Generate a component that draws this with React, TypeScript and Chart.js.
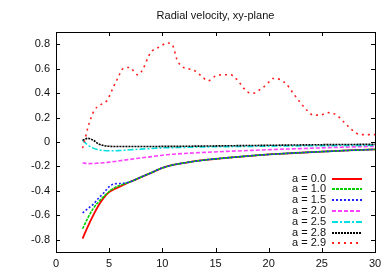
import React, { useEffect, useRef } from "react";
import { Chart, registerables } from "chart.js";

Chart.register(...registerables);

const TITLE = "Radial velocity, xy-plane";
const X_TICKS = [0, 5, 10, 15, 20, 25, 30];
const Y_TICKS = [-0.8, -0.6, -0.4, -0.2, 0, 0.2, 0.4, 0.6, 0.8];

const gridX = [2.5, 3, 3.5, 4, 4.5, 5, 5.5, 6, 7, 8, 9, 10, 11, 12, 14, 16, 18, 20, 22, 25, 28, 30];
const tail = [-0.325, -0.287, -0.25, -0.212, -0.188, -0.172, -0.147, -0.13, -0.115, -0.102, -0.092, -0.079, -0.067, -0.061];

const a00 = [-0.79, -0.69, -0.6, -0.52, -0.455, -0.41, -0.385, -0.365, ...tail];
const a10 = [-0.71, -0.62, -0.545, -0.49, -0.445, -0.405, -0.375, -0.355, ...tail];
const a15 = [-0.58, -0.545, -0.51, -0.46, -0.415, -0.365, -0.342, -0.34, ...tail];
const a20 = [-0.17, -0.177, -0.176, -0.173, -0.17, -0.165, -0.16, -0.153, -0.142, -0.13, -0.12, -0.108, -0.1, -0.094, -0.085, -0.077, -0.07, -0.063, -0.057, -0.048, -0.04, -0.036];
const a25 = [0.015, -0.025, -0.05, -0.063, -0.07, -0.072, -0.072, -0.07, -0.064, -0.058, -0.053, -0.048, -0.046, -0.044, -0.04, -0.038, -0.036, -0.034, -0.032, -0.03, -0.028, -0.027];
const a28 = [0.015, 0.03, 0.015, -0.015, -0.03, -0.035, -0.037, -0.037, -0.037, -0.037, -0.037, -0.036, -0.036, -0.035, -0.033, -0.031, -0.029, -0.027, -0.025, -0.022, -0.02, -0.019];

const a29X = [2.5, 2.75, 3.0, 3.3, 3.6, 4.1, 4.8, 5.4, 5.85, 6.3, 7.0, 7.3, 7.7, 8.2, 8.7, 9.1, 9.8, 10.4, 10.9, 11.4, 11.8, 12.4, 13.1, 13.8, 14.3, 15.0, 15.7, 16.4, 16.8, 17.3, 18.0, 18.6, 19.2, 19.8, 20.4, 21.1, 21.7, 22.3, 23.0, 23.6, 24.2, 24.8, 25.6, 26.4, 27.0, 27.7, 28.3, 28.9, 29.5, 30];
const a29 = [-0.05, 0.03, 0.12, 0.2, 0.26, 0.3, 0.34, 0.45, 0.53, 0.6, 0.61, 0.58, 0.55, 0.6, 0.7, 0.75, 0.78, 0.81, 0.8, 0.67, 0.62, 0.6, 0.58, 0.53, 0.5, 0.54, 0.55, 0.55, 0.53, 0.48, 0.41, 0.4, 0.43, 0.47, 0.52, 0.51, 0.47, 0.4, 0.32, 0.26, 0.22, 0.22, 0.24, 0.22, 0.17, 0.11, 0.07, 0.06, 0.06, 0.06];

const LABELS = ["a = 0.0", "a = 1.0", "a = 1.5", "a = 2.0", "a = 2.5", "a = 2.8", "a = 2.9"];
const COLORS = ["#ff0000", "#00d000", "#2020ff", "#ff40ff", "#00e0e0", "#000000", "#ff2020"];
const DASHES: number[][] = [[], [3, 1], [2, 2], [4, 2], [6, 2, 2, 2], [2, 1], [2, 4]];

const FONT = '"Liberation Sans", Arial, sans-serif';

const pts = (xs: number[], ys: number[]) => xs.map((x, i) => ({ x, y: ys[i] }));

const framePlugin = {
  id: "frame",
  afterDraw(chart: any) {
    const { ctx, chartArea: a, scales } = chart;
    ctx.save();
    ctx.strokeStyle = "#000";
    ctx.lineWidth = 1;
    ctx.strokeRect(Math.round(a.left) + 0.5, Math.round(a.top) + 0.5, Math.round(a.right - a.left), Math.round(a.bottom - a.top));
    const tl = 4;
    ctx.beginPath();
    X_TICKS.forEach((v) => {
      const px = Math.round(scales.x.getPixelForValue(v)) + 0.5;
      ctx.moveTo(px, a.bottom);
      ctx.lineTo(px, a.bottom - tl);
      ctx.moveTo(px, a.top);
      ctx.lineTo(px, a.top + tl);
    });
    Y_TICKS.forEach((v) => {
      const py = Math.round(scales.y.getPixelForValue(v)) + 0.5;
      ctx.moveTo(a.left, py);
      ctx.lineTo(a.left + tl, py);
      ctx.moveTo(a.right, py);
      ctx.lineTo(a.right - tl, py);
    });
    ctx.stroke();

    // title
    ctx.fillStyle = "#111";
    ctx.font = `11px ${FONT}`;
    ctx.textAlign = "center";
    ctx.textBaseline = "middle";
    ctx.fillText(TITLE, (a.left + a.right) / 2, 16);

    // legend
    const textRight = a.right - 49;
    const lineL = a.right - 43;
    const lineR = a.right - 13;
    const y0 = 178.5;
    const dy = 10.8;
    chart.data.datasets.forEach((ds: any, i: number) => {
      const y = y0 + i * dy;
      ctx.fillStyle = "#111";
      ctx.textAlign = "right";
      ctx.fillText(ds.label, textRight, y);
      ctx.beginPath();
      ctx.strokeStyle = ds.borderColor;
      ctx.lineWidth = 2;
      ctx.setLineDash(ds.borderDash);
      ctx.moveTo(lineL, Math.round(y));
      ctx.lineTo(lineR, Math.round(y));
      ctx.stroke();
      ctx.setLineDash([]);
    });
    ctx.restore();
  },
};

export default function App() {
  const ref = useRef<HTMLCanvasElement>(null);
  useEffect(() => {
    if (!ref.current) return;
    const series = [a00, a10, a15, a20, a25, a28];
    const datasets: any[] = series.map((ys, i) => ({
      label: LABELS[i],
      data: pts(gridX, ys),
      borderColor: COLORS[i],
      borderWidth: i === 0 ? 1.8 : 1.6,
      borderDash: DASHES[i],
      pointRadius: 0,
      fill: false,
      cubicInterpolationMode: "monotone",
      order: 10 - i,
    }));
    datasets.push({
      label: LABELS[6],
      data: pts(a29X, a29),
      borderColor: COLORS[6],
      borderWidth: 1.6,
      borderDash: DASHES[6],
      pointRadius: 0,
      fill: false,
      cubicInterpolationMode: "monotone",
      order: 1,
    });
    const chart = new Chart(ref.current, {
      type: "line",
      data: { datasets },
      options: {
        animation: false,
        responsive: false,
        devicePixelRatio: 1,
        layout: { padding: { top: 32, right: 16, left: 0, bottom: 0 } },
        plugins: { legend: { display: false }, tooltip: { enabled: false }, title: { display: false } },
        scales: {
          x: {
            type: "linear",
            min: 0,
            max: 30,
            grid: { display: false, drawTicks: false },
            border: { display: false },
            afterBuildTicks: (s: any) => { s.ticks = X_TICKS.map((v) => ({ value: v })); },
            afterFit: (s: any) => { s.height = 22; },
            ticks: { color: "#111", font: { family: FONT, size: 11 }, padding: 5, maxRotation: 0, autoSkip: false, callback: (v: any) => String(v) },
          },
          y: {
            type: "linear",
            min: -0.9,
            max: 0.9,
            grid: { display: false, drawTicks: false },
            border: { display: false },
            afterBuildTicks: (s: any) => { s.ticks = Y_TICKS.map((v) => ({ value: v })); },
            afterFit: (s: any) => { s.width = 56; },
            ticks: { color: "#111", font: { family: FONT, size: 11 }, padding: 6, autoSkip: false, callback: (v: any) => (Math.abs(v) < 1e-9 ? "0" : Number(v).toFixed(1)) },
          },
        },
      },
      plugins: [framePlugin],
    } as any);
    return () => chart.destroy();
  }, []);
  return (
    <div style={{ position: "absolute", left: 0, top: 0, width: 391, height: 274, background: "#fff" }}>
      <canvas ref={ref} width={391} height={274} style={{ width: 391, height: 274, display: "block" }} />
    </div>
  );
}
